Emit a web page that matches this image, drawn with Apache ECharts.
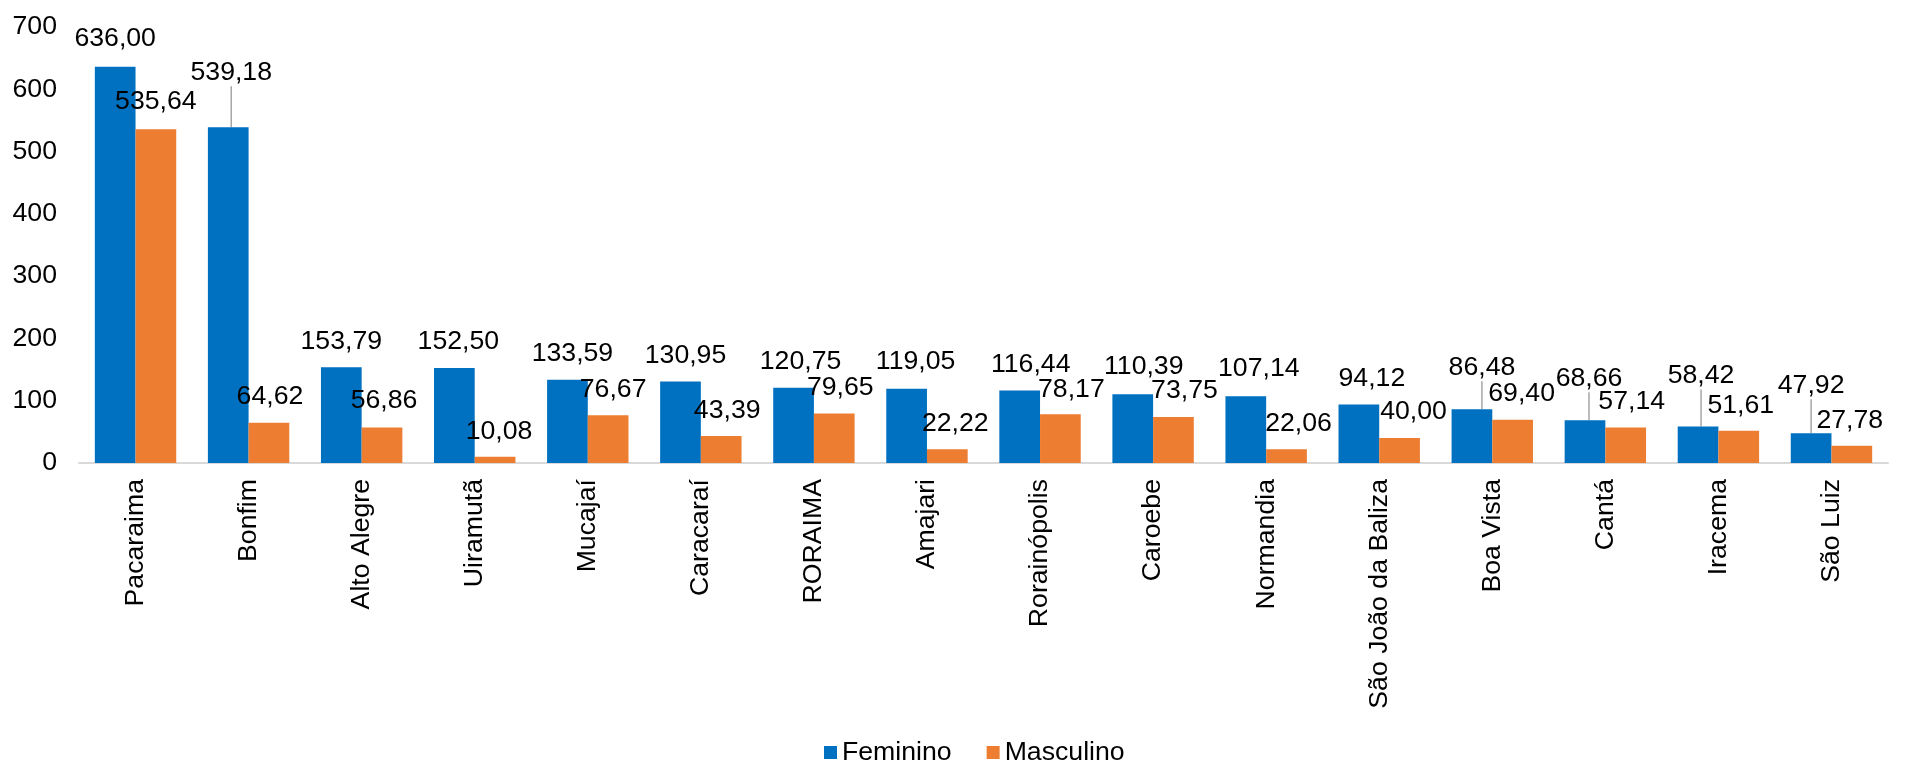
<!DOCTYPE html>
<html>
<head>
<meta charset="utf-8">
<script src="https://cdn.jsdelivr.net/npm/echarts@6/dist/echarts.min.js"></script>
<style>html,body{margin:0;padding:0;background:#fff}#c{width:1925px;height:766px}</style>
</head>
<body>
<div id="c"></div>
<script>
const categories = ['Pacaraima','Bonfim','Alto Alegre','Uiramutã','Mucajaí','Caracaraí','RORAIMA','Amajari','Rorainópolis','Caroebe','Normandia','São João da Baliza','Boa Vista','Cantá','Iracema','São Luiz'];
const feminino = [636.00,539.18,153.79,152.50,133.59,130.95,120.75,119.05,116.44,110.39,107.14,94.12,86.48,68.66,58.42,47.92];
const masculino = [535.64,64.62,56.86,10.08,76.67,43.39,79.65,22.22,78.17,73.75,22.06,40.00,69.40,57.14,51.61,27.78];
const yTicks = [0,100,200,300,400,500,600,700];

// label nudges (Excel-style placement) and which labels carry a leader line
const femLabelDx = [0,3,0,4,5,5,7,9,11,11,13,13,10,4,3,0];
const femLabelDy = [-3,-29,0,-1,-1,0,-1,-2,0,-2,-2,0,-16,-16,-25,-22];
const mascLabelDx = [0,1,2,4,5,6,6,8,11,11,12,14,9,6,2,-2];
const mascLabelDy = [-2,-1,-1,0,0,0,0,0,1,-1,0,-1,-1,0,0,0];
const femLeader = [false,true,false,false,false,false,false,false,false,false,false,false,true,true,true,true];

const FONT = 'Liberation Sans, Arial, sans-serif';
const FS = 26.67;
const fmt = v => v.toFixed(2).replace('.', ',');

const chart = echarts.init(document.getElementById('c'), null, {renderer: 'canvas'});
chart.setOption({
  animation: false,
  textStyle: {fontFamily: FONT},
  grid: {left: 79, right: 37, top: 27, bottom: 303, containLabel: false},
  legend: {
    data: ['Feminino', 'Masculino'],
    left: 819, top: 734,
    icon: 'rect', itemWidth: 13, itemHeight: 13, itemGap: 35,
    textStyle: {fontSize: FS, color: '#000', fontFamily: FONT, padding: [0, 0, 0, 0]}
  },
  xAxis: {
    type: 'category',
    data: categories,
    axisLine: {show: true, lineStyle: {color: '#D9D9D9', width: 2}},
    axisTick: {show: false},
    axisLabel: {rotate: 90, fontSize: FS, color: '#000', margin: 16, interval: 0, fontFamily: FONT}
  },
  yAxis: {
    type: 'value',
    min: yTicks[0], max: yTicks[yTicks.length - 1], interval: 100,
    axisLine: {show: false},
    axisTick: {show: false},
    splitLine: {show: false},
    axisLabel: {fontSize: FS, color: '#000', margin: 22, fontFamily: FONT}
  },
  series: [
    {
      name: 'Feminino', type: 'bar',
      data: feminino.map((v, i) => ({value: v, labelLine: {show: femLeader[i]}})),
      itemStyle: {color: '#0070C0'},
      barGap: '0%', barCategoryGap: '28%',
      label: {show: true, position: 'top', distance: 12, fontSize: FS, color: '#000', fontFamily: FONT, formatter: p => fmt(p.value)},
      labelLine: {show: false, lineStyle: {color: '#A6A6A6', width: 1.5}},
      labelLayout: p => ({dx: femLabelDx[p.dataIndex], dy: femLabelDy[p.dataIndex]})
    },
    {
      name: 'Masculino', type: 'bar',
      data: masculino,
      itemStyle: {color: '#ED7D31'},
      barGap: '0%', barCategoryGap: '28%',
      label: {show: true, position: 'top', distance: 12, fontSize: FS, color: '#000', fontFamily: FONT, formatter: p => fmt(p.value)},
      labelLayout: p => ({dx: mascLabelDx[p.dataIndex], dy: mascLabelDy[p.dataIndex]})
    }
  ]
});
</script>
</body>
</html>
